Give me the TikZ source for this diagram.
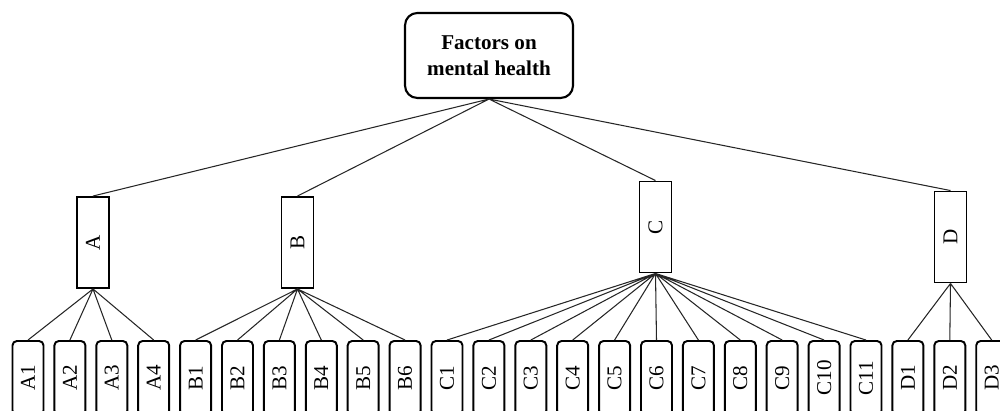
\documentclass[tikz,border=0pt]{standalone}
\usepackage{fontspec}
\setmainfont{Liberation Serif}
\usepackage{xcolor}

\tikzset{
  topbox/.style={draw, line width=1.2pt, rounded corners=7pt, align=center,
    minimum width=3.36cm, minimum height=1.7cm, font=\fontsize{12}{14.5}\selectfont\bfseries},
  factor/.style={draw, line width=1.1pt, minimum width=0.64cm, minimum height=1.82cm,
    inner sep=0pt, font=\fontsize{12}{14}\selectfont},
  item/.style={draw, line width=1.1pt, rounded corners=2.5pt, minimum width=0.62cm,
    minimum height=1.48cm, inner sep=0pt, font=\fontsize{12}{14}\selectfont},
  link/.style={black!85, line width=0.6pt}
}

\begin{document}
\begin{tikzpicture}[x=0.02cm, y=-0.02cm]
\useasboundingbox (0,0) rectangle (1000,411);
\clip (0,0) rectangle (1000,411);
% top
\node[topbox](root) at (489,55.5){Factors on\\mental health};
% factors
\node[factor](a) at (93,242.5){\rotatebox{90}{A}};
\node[factor](b) at (297.5,242.5){\rotatebox{90}{B}};
\node[factor](c) at (655.5,227){\rotatebox{90}{C}};
\node[factor](d) at (950.5,237){\rotatebox{90}{D}};
% items
\node[item](a1) at (28,378){\rotatebox{90}{A1}};
\node[item](a2) at (69.9,378){\rotatebox{90}{A2}};
\node[item](a3) at (111.8,378){\rotatebox{90}{A3}};
\node[item](a4) at (153.7,378){\rotatebox{90}{A4}};
\node[item](b1) at (195.6,378){\rotatebox{90}{B1}};
\node[item](b2) at (237.5,378){\rotatebox{90}{B2}};
\node[item](b3) at (279.4,378){\rotatebox{90}{B3}};
\node[item](b4) at (321.3,378){\rotatebox{90}{B4}};
\node[item](b5) at (363.2,378){\rotatebox{90}{B5}};
\node[item](b6) at (405.1,378){\rotatebox{90}{B6}};
\node[item](c1) at (447,378){\rotatebox{90}{C1}};
\node[item](c2) at (488.9,378){\rotatebox{90}{C2}};
\node[item](c3) at (530.8,378){\rotatebox{90}{C3}};
\node[item](c4) at (572.7,378){\rotatebox{90}{C4}};
\node[item](c5) at (614.6,378){\rotatebox{90}{C5}};
\node[item](c6) at (656.5,378){\rotatebox{90}{C6}};
\node[item](c7) at (698.4,378){\rotatebox{90}{C7}};
\node[item](c8) at (740.3,378){\rotatebox{90}{C8}};
\node[item](c9) at (782.2,378){\rotatebox{90}{C9}};
\node[item](c10) at (824.1,378){\rotatebox{90}{C10}};
\node[item](c11) at (866,378){\rotatebox{90}{C11}};
\node[item](d1) at (907.9,378){\rotatebox{90}{D1}};
\node[item](d2) at (949.8,378){\rotatebox{90}{D2}};
\node[item](d3) at (991.7,378){\rotatebox{90}{D3}};
% links
\draw[link] (root.south) -- (a.north) (root.south) -- (b.north)
  (root.south) -- (c.north) (root.south) -- (d.north);
\draw[link] (a.south) -- (a1.north) (a.south) -- (a2.north)
  (a.south) -- (a3.north) (a.south) -- (a4.north);
\draw[link] (b.south) -- (b1.north) (b.south) -- (b2.north) (b.south) -- (b3.north)
  (b.south) -- (b4.north) (b.south) -- (b5.north) (b.south) -- (b6.north);
\draw[link] (c.south) -- (c1.north) (c.south) -- (c2.north) (c.south) -- (c3.north)
  (c.south) -- (c4.north) (c.south) -- (c5.north) (c.south) -- (c6.north)
  (c.south) -- (c7.north) (c.south) -- (c8.north) (c.south) -- (c9.north)
  (c.south) -- (c10.north) (c.south) -- (c11.north);
\draw[link] (d.south) -- (d1.north) (d.south) -- (d2.north) (d.south) -- (d3.north);
\end{tikzpicture}
\end{document}
